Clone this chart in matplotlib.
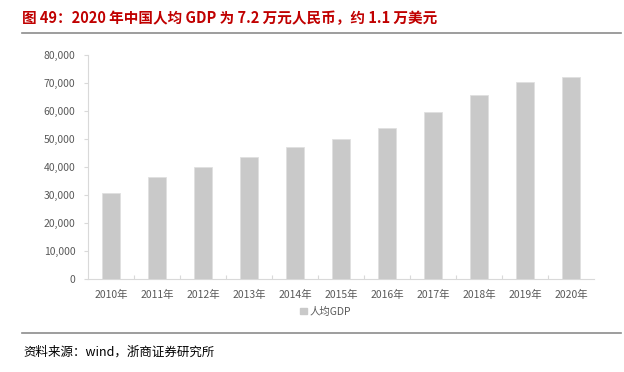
import matplotlib.pyplot as plt
from matplotlib.lines import Line2D
from matplotlib.patches import Patch
from matplotlib.ticker import FuncFormatter

plt.rcParams['font.family'] = ['Noto Sans CJK SC', 'DejaVu Sans']

years = ['2010年', '2011年', '2012年', '2013年', '2014年', '2015年',
         '2016年', '2017年', '2018年', '2019年', '2020年']
gdp_per_capita = [30808, 36277, 39771, 43497, 46912, 49922,
                  53783, 59592, 65534, 70328, 72000]

title = '图 49：2020 年中国人均 GDP 为 7.2 万元人民币，约 1.1 万美元'
source = '资料来源：wind，浙商证券研究所'

fig = plt.figure(figsize=(6.24, 3.72), dpi=100)
ax = fig.add_axes([0.141, 0.250, 0.811, 0.603])

x = range(len(years))
ax.bar(x, gdp_per_capita, width=0.4, color='#c9c9c9', edgecolor='#e0e0e0',
       linewidth=0.6, label='人均GDP', zorder=2)

ax.set_xlim(-0.5, len(years) - 0.5)
ax.set_ylim(0, 80000)
ax.set_yticks(range(0, 80001, 10000))
ax.yaxis.set_major_formatter(FuncFormatter(lambda v, p: f'{int(v):,}'))
ax.set_xticks(list(x))
ax.set_xticklabels(years)
ax.set_xticks([i + 0.5 for i in range(len(years) - 1)], minor=True)

for s in ['top', 'right']:
    ax.spines[s].set_visible(False)
for s in ['left', 'bottom']:
    ax.spines[s].set_color('#d9d9d9')
    ax.spines[s].set_linewidth(0.8)

ax.tick_params(axis='y', colors='#d9d9d9', labelcolor='#595959',
               labelsize=7.5, length=3, width=0.8, pad=6)
ax.tick_params(axis='x', which='major', length=0, labelcolor='#595959',
               labelsize=7.5, pad=8)
ax.tick_params(axis='x', which='minor', direction='in', length=3,
               colors='#d9d9d9', width=0.8)

leg = fig.legend(handles=[Patch(color='#c9c9c9', label='人均GDP')],
                 loc='center', bbox_to_anchor=(0.522, 0.162), frameon=False,
                 fontsize=7.5, handlelength=0.6, handleheight=0.6,
                 handletextpad=0.3)
for t in leg.get_texts():
    t.set_color('#595959')

fig.text(0.035, 0.952, title, color='#c00000', fontsize=10.5,
         fontweight='bold', va='center', ha='left')
fig.add_artist(Line2D([0.035, 0.995], [0.911, 0.911], color='#8c8c8c',
                      linewidth=1.2, transform=fig.transFigure))
fig.add_artist(Line2D([0.035, 0.995], [0.105, 0.105], color='#8c8c8c',
                      linewidth=1.2, transform=fig.transFigure))
fig.text(0.037, 0.053, source, color='black', fontsize=9,
         va='center', ha='left')

fig.savefig('out.png', dpi=100)
